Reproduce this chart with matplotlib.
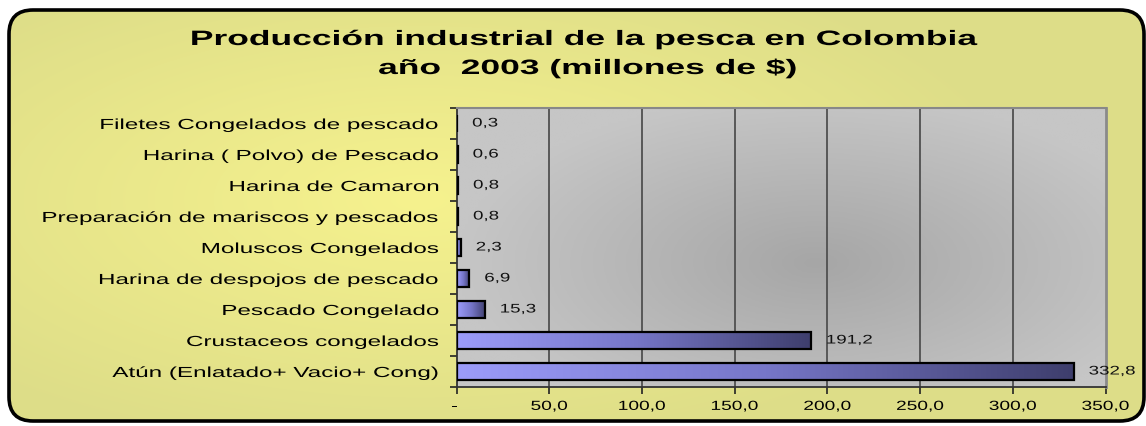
import numpy as np
import matplotlib
matplotlib.use("Agg")
import matplotlib.pyplot as plt
from matplotlib.patches import FancyBboxPatch
from matplotlib.colors import LinearSegmentedColormap
from matplotlib.patheffects import AbstractPathEffect
from matplotlib.transforms import Affine2D, ScaledTranslation

categories = [
    "Atún (Enlatado+ Vacio+ Cong)",
    "Crustaceos congelados",
    "Pescado Congelado",
    "Harina de despojos de pescado",
    "Moluscos Congelados",
    "Preparación de mariscos y pescados",
    "Harina de Camaron",
    "Harina ( Polvo) de Pescado",
    "Filetes Congelados de pescado",
]
values = [332.8, 191.2, 15.3, 6.9, 2.3, 0.8, 0.8, 0.6, 0.3]
value_labels = ["332,8", "191,2", "15,3", "6,9", "2,3", "0,8", "0,8", "0,6", "0,3"]
xticks = [0, 50, 100, 150, 200, 250, 300, 350]
xtick_labels = ["-", "50,0", "100,0", "150,0", "200,0", "250,0", "300,0", "350,0"]
title_line1 = "Producción industrial de la pesca en Colombia"
title_line2 = "año  2003 (millones de $)"


class Stretch(AbstractPathEffect):
    """Widen text horizontally (the reference text is horizontally stretched)."""

    def __init__(self, sx, anchor="center"):
        super().__init__()
        self.sx = sx
        self.anchor = anchor

    def draw_path(self, renderer, gc, tpath, affine, rgbFace=None):
        ext = tpath.get_extents(affine)
        if self.anchor == "left":
            x0 = ext.x0
        elif self.anchor == "right":
            x0 = ext.x1
        else:
            x0 = 0.5 * (ext.x0 + ext.x1)
        aff = affine + Affine2D().translate(-x0, 0).scale(self.sx, 1.0).translate(x0, 0)
        renderer.draw_path(gc, tpath, aff, rgbFace)


FONT = "Liberation Sans"
W, H = 1146, 427
fig = plt.figure(figsize=(W / 100, H / 100), dpi=100)
fig.patch.set_facecolor("white")

# background rounded panel with gradient
bg = fig.add_axes([0, 0, 1, 1])
bg.set_xlim(0, W)
bg.set_ylim(H, 0)
bg.axis("off")
yy, xx = np.mgrid[0:H, 0:W]
d = np.sqrt(((xx - 420) / 620.0) ** 2 + ((yy - 200) / 260.0) ** 2)
d = np.clip(d, 0, 1)
c_center = np.array([246, 242, 142]) / 255.0
c_edge = np.array([221, 221, 136]) / 255.0
img = c_center[None, None, :] * (1 - d[..., None]) + c_edge[None, None, :] * d[..., None]
im = bg.imshow(img, extent=(0, W, H, 0), aspect="auto", zorder=1)
box = FancyBboxPatch((9, 11), 1135, 411, boxstyle="round,pad=0,rounding_size=24",
                     facecolor="none", edgecolor="black", linewidth=2.6, zorder=3)
bg.add_patch(box)
im.set_clip_path(box)

# plot area
x0, x1 = 456.5, 1105.5
y0, y1 = 109, 388
ax = fig.add_axes([x0 / W, 1 - y1 / H, (x1 - x0) / W, (y1 - y0) / H])
ax.set_xlim(0, 350)
n = len(categories)
ax.set_ylim(-0.5, n - 0.5)

# grey gradient plot background
gy, gx = np.mgrid[0:100, 0:200]
gd = np.sqrt(((gx - 110) / 110.0) ** 2 + ((gy - 55) / 60.0) ** 2)
gd = np.clip(gd, 0, 1)
g_center = np.array([166, 166, 166]) / 255.0
g_edge = np.array([198, 198, 198]) / 255.0
gimg = g_center[None, None, :] * (1 - gd[..., None]) + g_edge[None, None, :] * gd[..., None]
ax.imshow(gimg, extent=(0, 350, -0.5, n - 0.5), aspect="auto", zorder=0)

for xv in xticks[1:-1]:
    ax.axvline(xv, color="#505050", lw=1.3, zorder=1)

ypos = np.arange(n)
bars = ax.barh(ypos, values, height=0.56, color="none", edgecolor="black",
               linewidth=1.6, zorder=3)
cmap = LinearSegmentedColormap.from_list("bar", ["#9C9CFA", "#7676C8", "#3E3E6C"])
grad = np.linspace(0, 1, 256)[None, :]
for b, v in zip(bars, values):
    gi = ax.imshow(grad, extent=(0, v, b.get_y(), b.get_y() + b.get_height()),
                   cmap=cmap, aspect="auto", zorder=2)
    gi.set_clip_path(b)

for yv, v, lab in zip(ypos, values, value_labels):
    ax.annotate(lab, (v, yv), xytext=(11, 0), textcoords="offset points",
                va="center", ha="left", fontsize=9, family=FONT, color="#111111",
                zorder=4, path_effects=[Stretch(1.5, "left")])

ax.set_xticks(xticks)
ax.set_xticklabels(xtick_labels, fontsize=9.5, family=FONT)
for lbl in ax.get_xticklabels():
    lbl.set_path_effects([Stretch(1.45, "center")])
dash = ax.get_xticklabels()[0]
dash.set_horizontalalignment("right")
dash.set_transform(dash.get_transform() + ScaledTranslation(-5 / 100, 0, fig.dpi_scale_trans))

ax.set_yticks(np.arange(-0.5, n, 1.0), minor=False)
ax.set_yticklabels([])
ax.set_yticks(ypos, minor=True)
ax.set_yticklabels(categories, minor=True, fontsize=10.5, family=FONT)
for lbl in ax.get_yticklabels(minor=True):
    lbl.set_path_effects([Stretch(1.66, "right")])
ax.tick_params(axis="y", which="minor", length=0, pad=12)
ax.tick_params(axis="y", which="major", length=5, width=1.2, direction="out", color="#222222")
ax.tick_params(axis="x", length=5, width=1.2, direction="out", pad=5, color="#222222")
ax.spines["top"].set_color("#888888")
ax.spines["top"].set_linewidth(1.5)
ax.spines["right"].set_color("#8a8a8a")
ax.spines["right"].set_linewidth(2.0)
ax.spines["left"].set_linewidth(1.3)
ax.spines["bottom"].set_linewidth(1.3)
ax.spines["left"].set_color("#333333")
ax.spines["bottom"].set_color("#333333")

fig.text(585 / W, 1 - 46 / H, title_line1, ha="center", va="baseline", fontsize=15,
         fontweight="bold", family=FONT, path_effects=[Stretch(1.7, "center")])
fig.text(588 / W, 1 - 75 / H, title_line2, ha="center", va="baseline", fontsize=15,
         fontweight="bold", family=FONT, path_effects=[Stretch(1.7, "center")])

fig.savefig("out.png", dpi=100)
